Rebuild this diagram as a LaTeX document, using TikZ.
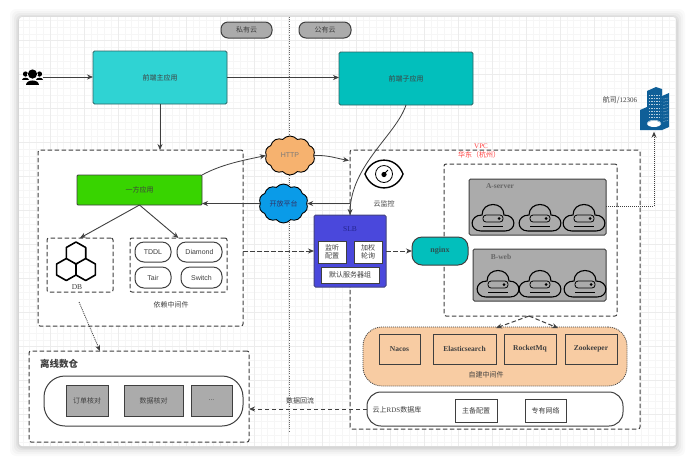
\documentclass[tikz,border=0pt]{standalone}
\usepackage{fontspec}
\setmainfont{Noto Sans CJK SC}
\newfontfamily\serifl{Liberation Serif}
\newfontfamily\sansl{Liberation Sans}
\usetikzlibrary{arrows.meta,shapes.symbols,calc}
\definecolor{ink}{HTML}{3F3F3F}
\definecolor{gridfine}{HTML}{F6F6F6}
\definecolor{gridmajor}{HTML}{ECECEC}
\definecolor{cyanbox}{HTML}{2FD3D3}
\definecolor{tealbox}{HTML}{02BFBC}
\definecolor{greenbox}{HTML}{38D400}
\definecolor{orangecloud}{HTML}{F6B26F}
\definecolor{bluecloud}{HTML}{0A9BE8}
\definecolor{slbblue}{HTML}{4A48DC}
\definecolor{slbtext}{HTML}{25258F}
\definecolor{greybox}{HTML}{ABABAB}
\definecolor{peach}{HTML}{F8CCA3}
\definecolor{tower}{HTML}{0F5F98}
\tikzset{
  x=1pt,y=-1pt,
  every node/.style={font=\fontsize{7}{8.5}\selectfont,text=ink,align=center},
  flow/.style={draw=ink,line width=.8pt,-{Stealth[length=6pt,width=5pt]}},
  dashflow/.style={flow,line width=1pt,dash pattern=on 4.5pt off 2.5pt},
  dotflow/.style={flow,dash pattern=on 1pt off 1pt},
  dashbox/.style={draw=ink,line width=1pt,dash pattern=on 4.5pt off 2.5pt,rounded corners=2pt,fill=white},
  tag/.style={draw=ink,line width=1pt,fill=greybox,rounded corners=7pt},
  appbox/.style={draw=ink!70!tealbox,line width=.8pt,rounded corners=1.5pt},
  whitebox/.style={draw=ink,line width=1pt,fill=white},
  pillbox/.style={draw=ink,line width=1pt,fill=white,rounded corners=9pt},
  greysq/.style={draw=ink,line width=1pt,fill=greybox},
  brownbox/.style={draw=ink,line width=.9pt,fill=peach,font=\serifl\bfseries\fontsize{7.5}{9}\selectfont},
  panel/.style={draw=ink,line width=1pt,fill=greybox,rounded corners=1.5pt},
  puff/.style={cloud,cloud puffs=10,cloud puff arc=100,aspect=1.25,draw=black,line width=.9pt,inner sep=0pt},
  pics/srv/.style={code={
    \draw[black,line width=1.1pt] (-12,13) .. controls (-24,13) and (-24,-3) .. (-11,-3)
      .. controls (-11,-17) and (11,-17) .. (11,-3)
      .. controls (24,-3) and (24,13) .. (12,13) -- cycle;
    \draw[black,line width=.8pt,rounded corners=3pt] (-10,-3) rectangle (10,4);
    \fill[black] (6,.5) circle (1.5);
    \draw[black,line width=.8pt] (-10,8) -- (10,8);
  }},
}
% Places a named rectangular node by its corner coordinates.
\newcommand{\boxat}[7]{%
  \pgfmathsetmacro\bxw{#4-#2}\pgfmathsetmacro\bxh{#5-#3}%
  \node[#6,minimum width=\bxw pt,minimum height=\bxh pt,inner sep=0pt,outer sep=0pt]
    (#1) at ({(#2+#4)/2},{(#3+#5)/2}) {#7};}
\begin{document}
\begin{tikzpicture}
\useasboundingbox (0,0) rectangle (692,459);
\fill[white] (0,0) rectangle (692,459);
% Soft shadow round the sheet
\foreach \s/\o in {9/.02,7/.025,5/.03,3/.04,1.5/.05}
  \fill[black,opacity=\o,rounded corners=6pt] (19-\s,17-\s+1) rectangle (676+\s,446+\s+1);
\fill[white,rounded corners=3pt] (19,17) rectangle (676,446);
% Grid paper
\begin{scope}
  \clip[rounded corners=3pt] (19,17) rectangle (676,446);
  \foreach \i in {0,...,100} {
    \draw[gridfine,line width=.5pt] ({16+6.8*\i},17) -- ({16+6.8*\i},446);
  }
  \foreach \i in {0,...,65} {
    \draw[gridfine,line width=.5pt] (19,{13.5+6.8*\i}) -- (676,{13.5+6.8*\i});
  }
  \foreach \i in {0,...,20} {
    \draw[gridmajor,line width=.5pt] ({16+34*\i},17) -- ({16+34*\i},446);
  }
  \foreach \i in {0,...,13} {
    \draw[gridmajor,line width=.5pt] (19,{6.7+34*\i}) -- (676,{6.7+34*\i});
  }
\end{scope}

% Private / public boundary
\coordinate (linetop) at (289,17);
\coordinate (linebot) at (289,432);
\draw[ink!80,line width=.8pt,dash pattern=on 1pt off 1.2pt] (linetop) -- (linebot);
\boxat{private}{221}{22}{272}{38}{tag}{私有云}
\boxat{public}{299}{22}{351}{38}{tag}{公有云}

% Containers
\boxat{left}{38}{150}{243}{326}{dashbox}{}
\boxat{vpc}{350}{150}{640}{429}{dashbox}{}
\boxat{inner}{444}{164}{617}{316}{dashbox}{}
\boxat{dw}{29}{351}{249}{442}{dashbox}{}
\boxat{db}{47}{238}{113}{292}{dashbox}{}
\boxat{dep}{130}{238}{227}{292}{dashbox}{}

% Applications
\boxat{front}{93}{51}{227}{104}{appbox,fill=cyanbox}{前端主应用}
\boxat{sub}{339}{52}{473}{105}{appbox,fill=tealbox}{前端子应用}
\boxat{green}{77}{175}{202}{205}{draw=ink,line width=.8pt,rounded corners=1pt,fill=greenbox}{一方应用}

% Users: three heads and shoulders
\node[inner sep=0pt,minimum width=21pt,minimum height=16pt] (users) at (32.5,77) {};
\fill[black] (25.5,74) circle (2.6) (39.5,74) circle (2.6);
\fill[black] (22,80) .. controls (22,76.5) and (29,76.5) .. (29,80) -- cycle;
\fill[black] (36,80) .. controls (36,76.5) and (43,76.5) .. (43,80) -- cycle;
\fill[white] (32.5,74.5) circle (5.4);
\fill[black] (32.5,74) circle (4.6);
\fill[black] (26,85) .. controls (26,79) and (39,79) .. (39,85) -- cycle;

% Clouds
\node[puff,fill=orangecloud,minimum width=50pt,minimum height=39pt,text=ink!70] (http) at (290,155.5) {\sansl HTTP};
\node[puff,fill=bluecloud,minimum width=49pt,minimum height=39pt,text=ink!80!blue] (open) at (283.5,203.5) {开放平台};

% Connectors between applications
\draw[flow] (users.east) -- (users.east -| front.west);
\draw[flow] (front.east) -- (front.east -| sub.west);
\draw[flow] (front.south) -- (front.south |- left.north);
\draw[flow,line width=.9pt] (green.south) -- (db.north);
\draw[flow,line width=.9pt] (green.south) -- (dep.north);
\draw[flow] (green.north east) .. controls (222,164) and (245,160) .. (http.west);
\coordinate (vpchttp) at (349,160.5);
\draw[flow] (http.east) .. controls (328,155) and (335,158) .. (vpchttp);
\draw[flow] (vpc.west |- open.east) -- (open.east);
\draw[flow] (open.west) -- (green.east |- open.west);

% Load balancer
\boxat{slb}{314}{215}{386}{287}{draw=ink!60!slbblue,line width=1pt,rounded corners=1.5pt,fill=slbblue}{}
\node[text=slbtext,font=\serifl\fontsize{7.5}{9}\selectfont] (slbtitle) at (350,229) {SLB};
\boxat{listen}{318}{241}{346}{263}{whitebox,line width=.9pt}{监听\\配置}
\boxat{weight}{354}{241}{382}{263}{whitebox,line width=.9pt}{加权\\轮询}
\boxat{group}{321}{267}{379}{283}{whitebox,line width=.9pt}{默认服务器组}
\draw[flow] (sub.south) .. controls (396,135) and (351,165) .. (slb.north);
\draw[dashflow] (left.east |- slb.west) -- (slb.west);

% Cloud monitor eye
\draw[black,line width=1.4pt] (365,174) .. controls (372,155.5) and (396,155.5) .. (403,174) .. controls (396,192.5) and (372,192.5) .. (365,174) -- cycle;
\draw[black,line width=.8pt] (384,174) circle (8.5);
\fill[black] (384,174.5) circle (2.6);
\draw[black,line width=.9pt] (384,174) -- (388,170);
\node (eyelabel) at (384,204) {云监控};

% VPC caption
\node[text=red!75!white,font=\serifl\fontsize{7}{8}\selectfont] (vpclabel) at (481,146) {VPC};
\node[text=red!75!white] (region) at (479,155) {华东（杭州）};

% Server groups
\boxat{aserver}{469}{179}{606}{235}{panel}{}
\node[font=\serifl\bfseries\fontsize{7.5}{9}\selectfont,text=ink!80] (alabel) at (500,186) {A-server};
\pic at (493,218) {srv};
\pic at (540,218) {srv};
\pic at (584,218) {srv};
\boxat{bweb}{473}{249}{606}{301}{panel}{}
\node[font=\serifl\bfseries\fontsize{7.5}{9}\selectfont,text=ink!80] (blabel) at (501,257) {B-web};
\pic at (498,284) {srv};
\pic at (540,284) {srv};
\pic at (585,284) {srv};

% Gateway
\boxat{nginx}{412}{237}{468}{265}{draw=ink,line width=1pt,rounded corners=10pt,fill=tealbox,text=ink!70!teal,font=\serifl\bfseries\fontsize{8}{9}\selectfont}{nginx}
\draw[dashflow] (slb.east) -- (nginx.west);

% Self-hosted middleware
\boxat{mw}{363}{327}{627}{386}{draw=ink,line width=.8pt,dash pattern=on 1pt off 1pt,rounded corners=19pt,fill=peach}{}
\boxat{nacos}{379}{334}{420}{364}{brownbox}{Nacos}
\boxat{es}{433}{334}{496}{364}{brownbox}{Elasticsearch}
\boxat{rmq}{504}{334}{556}{364}{brownbox}{RocketMq}
\boxat{zk}{565}{334}{617}{364}{brownbox}{Zookeeper}
\node (mwlabel) at (486,375) {自建中间件};
\coordinate (fork) at (529,316);
\coordinate (forka) at (496,328);
\coordinate (forkb) at (558,328);
\draw[dashflow] (fork) -- (forka);
\draw[dashflow] (fork) -- (forkb);

% Cloud database
\boxat{rds}{367}{392}{623}{426}{draw=ink,line width=1pt,fill=white,rounded corners=14pt}{}
\node (rdslabel) at (397,410) {云上{\serifl RDS}数据库};
\boxat{standby}{455}{399}{497}{422}{whitebox}{主备配置}
\boxat{vnet}{525}{399}{566}{422}{whitebox}{专有网络}
\draw[dashflow] (rds.west) -- (rds.west -| dw.east);
\node (backflow) at (300,401) {数据回流};

% Offline warehouse
\node[font=\fontsize{9.5}{11}\selectfont\bfseries] (dwlabel) at (59,364) {离线数仓};
\boxat{dwpill}{44}{376}{243}{426}{draw=ink,line width=1pt,rounded corners=21pt}{}
\boxat{orders}{66}{385}{108}{416}{greysq}{订单核对}
\boxat{datacheck}{124}{385}{183}{416}{greysq}{数据核对}
\boxat{more}{191}{385}{232}{416}{greysq}{...}

% Database mark: three hexagons round one vertex
\coordinate (hexmid) at (76,264);
\begin{scope}[shift={(hexmid)},black,line width=1.6pt,line join=round]
  \draw (0,0) -- (9.7,-5.5) -- (9.7,-16.5) -- (0,-22) -- (-9.7,-16.5) -- (-9.7,-5.5) -- cycle;
  \draw (0,0) -- (0,11) -- (-9.7,16.5) -- (-19.4,11) -- (-19.4,0) -- (-9.7,-5.5);
  \draw (0,11) -- (9.7,16.5) -- (19.4,11) -- (19.4,0) -- (9.7,-5.5);
  \fill (0,0) circle (1.5);
\end{scope}
\node[font=\serifl\fontsize{7.5}{9}\selectfont] (dblabel) at (77,287) {DB};

% Dependent middleware
\boxat{tddl}{135}{242}{171}{262}{pillbox}{\sansl TDDL}
\boxat{diamond}{177}{242}{222}{262}{pillbox}{\sansl Diamond}
\boxat{tair}{135}{267}{171}{288}{pillbox}{\sansl Tair}
\boxat{switch}{181}{267}{222}{288}{pillbox}{\sansl Switch}
\node (deplabel) at (171,305) {依赖中间件};
\coordinate (dbout) at (79,302);
\coordinate (dwin) at (100,351);
\draw[dotflow] (dbout) -- (dwin);

% External data centre
\fill[tower] (640,110) -- (647,107) -- (647,130) -- (640,130) -- cycle;
\fill[tower] (647,91) -- (656,87) -- (662,89) -- (662,130) -- (647,130) -- cycle;
\fill[tower] (662,96) -- (669,93) -- (669,127) -- (662,130) -- cycle;
\foreach \r in {0,...,7} {
  \draw[white!70!tower,line width=.6pt,dash pattern=on 1.4pt off 1pt] (649,{95+3.2*\r}) -- (661,{95+3.2*\r});
  \draw[white!70!tower,line width=.5pt,dash pattern=on 1pt off 1pt] (663.5,{99+3.2*\r}) -- (668,{98+3.2*\r});
}
\fill[white] (654,123.5) ellipse (7 and 3.5);
\draw[tower!60!white,line width=.4pt] (647,124) arc[start angle=180,end angle=360,x radius=7,y radius=3.5];
\node[inner sep=0pt] (tower) at (654,131) {};
\node[font=\fontsize{7}{8}\selectfont] (towerlabel) at (620,100) {航司/{\serifl 12306}};
\coordinate (abend) at (654,206);
\draw[dotflow] (aserver.east |- abend) -- (abend) -- (tower.south);
\end{tikzpicture}
\end{document}
